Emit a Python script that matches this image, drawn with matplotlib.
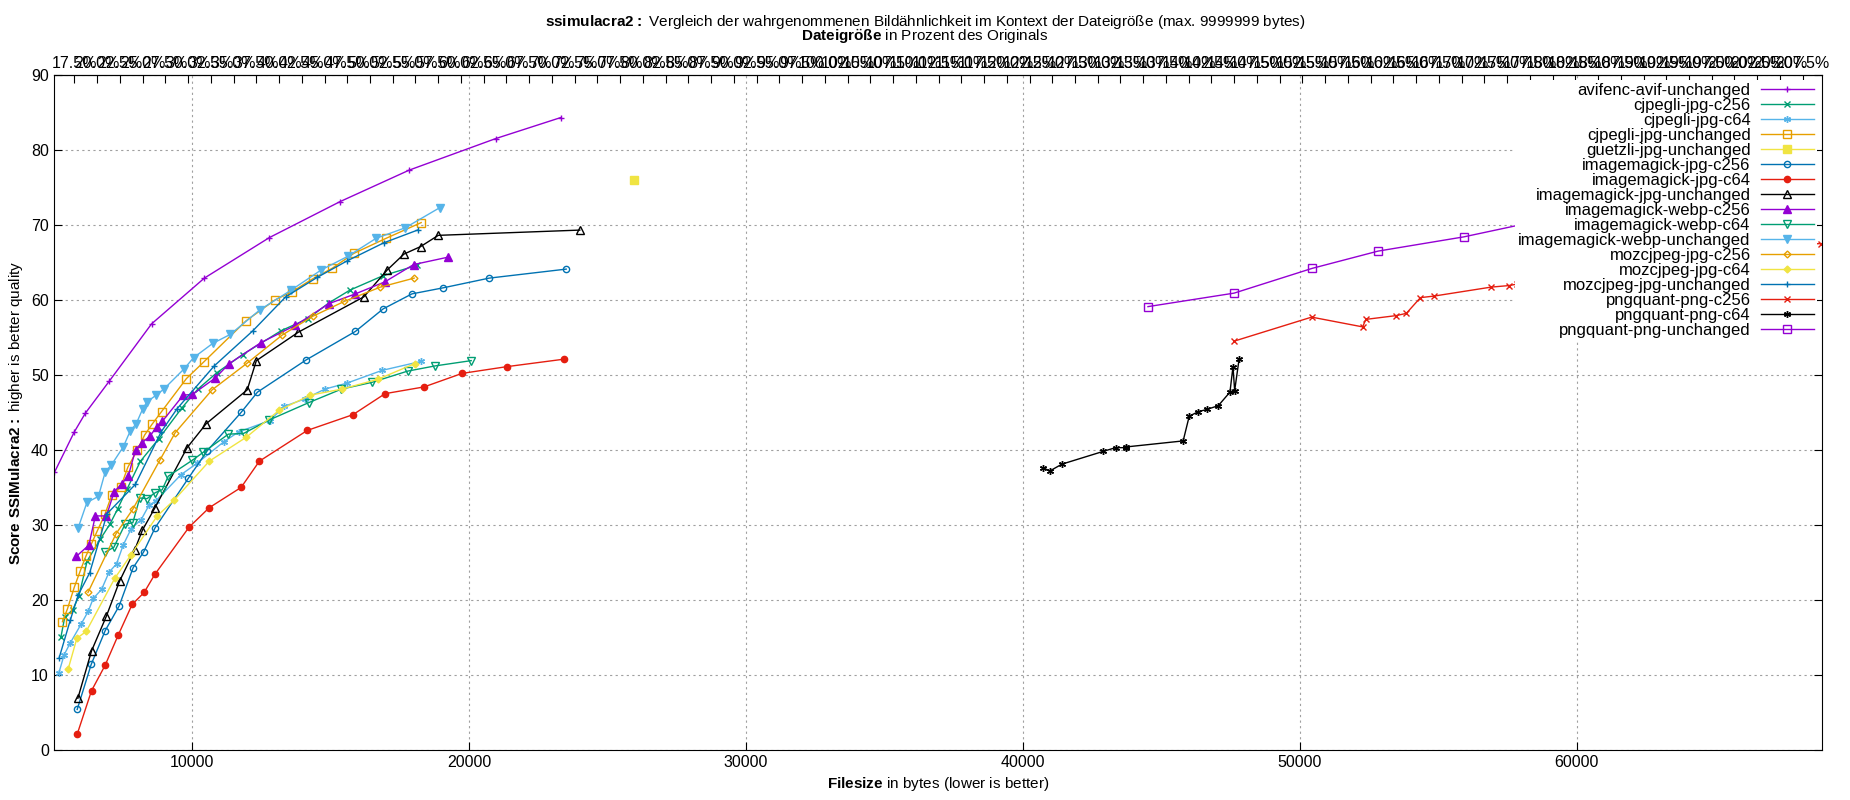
import numpy as np
import matplotlib
matplotlib.use("Agg")
import matplotlib.pyplot as plt

plt.rcParams['font.family'] = ['Liberation Sans', 'DejaVu Sans']
plt.rcParams['mathtext.fontset'] = 'custom'
plt.rcParams['mathtext.bf'] = 'Liberation Sans:bold'
plt.rcParams['mathtext.rm'] = 'Liberation Sans'

ORIG_SIZE = 32850  # bytes of the original, for the top percent axis

# --- data: (filesize bytes, score) per series ---
avif_x = [5028, 5746, 6146, 7016, 8536, 10442, 12790, 15345, 17844, 20965, 23313]
avif_y = [37.0, 42.4, 44.9, 49.2, 56.8, 62.9, 68.3, 73.1, 77.3, 81.5, 84.3]

cjpegli_c256_x = [5260, 5400, 5690, 5910, 6210, 6685, 7030, 7307, 7652, 8135, 8800, 9630, 10207, 10898, 11820, 13220, 14190, 14940, 15700, 16880, 18120]
cjpegli_c256_y = [15.0, 17.7, 18.7, 20.5, 25.2, 28.1, 30.1, 32.1, 34.8, 38.5, 41.5, 45.6, 48.1, 50.3, 52.7, 55.9, 57.5, 59.6, 61.3, 63.2, 64.6]

cjpegli_c64_x = [5190, 5380, 5590, 5995, 6250, 6430, 6730, 7000, 7270, 7510, 7800, 8160, 8440, 8690, 9600, 10170, 11150, 11680, 12800, 13330, 14070, 14790, 15590, 16860, 18270]
cjpegli_c64_y = [10.3, 12.7, 14.2, 16.8, 18.5, 20.2, 21.4, 23.7, 24.8, 27.3, 29.5, 30.7, 32.6, 33.2, 36.7, 38.2, 41.1, 42.4, 43.9, 45.8, 46.8, 48.1, 48.9, 50.6, 51.8]

cjpegli_unch_x = [5318, 5498, 5746, 5953, 6160, 6354, 6575, 6851, 7100, 7417, 7680, 8025, 8288, 8550, 8895, 9793, 10414, 11947, 12997, 13619, 14351, 15055, 15842, 17002, 18273]
cjpegli_unch_y = [17.1, 18.8, 21.7, 23.8, 25.8, 27.4, 29.2, 31.4, 34.0, 35.0, 37.7, 40.0, 42.0, 43.4, 45.1, 49.5, 51.7, 57.2, 60.0, 61.1, 62.8, 64.2, 66.2, 68.2, 70.3]

guetzli_x = [25960]
guetzli_y = [76.0]

im_jpg_c256_x = [5850, 6355, 6860, 7365, 7870, 8250, 8660, 9860, 10550, 11770, 12360, 14120, 15900, 16900, 17940, 19060, 20730, 23510]
im_jpg_c256_y = [5.4, 11.4, 15.9, 19.2, 24.3, 26.4, 29.6, 36.2, 39.9, 45.0, 47.7, 52.0, 55.8, 58.8, 60.8, 61.6, 62.9, 64.1]

im_jpg_c64_x = [5850, 6367, 6860, 7330, 7835, 8268, 8653, 9890, 10620, 11770, 12430, 14160, 15810, 16970, 18380, 19750, 21370, 23440]
im_jpg_c64_y = [2.1, 7.9, 11.3, 15.3, 19.4, 21.0, 23.4, 29.7, 32.3, 35.0, 38.5, 42.6, 44.7, 47.5, 48.4, 50.2, 51.1, 52.1]

im_jpg_unch_x = [5875, 6367, 6900, 7380, 7930, 8205, 8660, 9820, 10510, 11990, 12320, 13840, 16200, 17050, 17650, 18250, 18890, 24000]
im_jpg_unch_y = [6.9, 13.2, 17.8, 22.5, 26.7, 29.3, 32.3, 40.3, 43.5, 48.0, 51.9, 55.7, 60.4, 64.0, 66.1, 67.1, 68.6, 69.3]

im_webp_c256_x = [5815, 6271, 6506, 6907, 7183, 7459, 7694, 7956, 8177, 8495, 8716, 8923, 9682, 10014, 10842, 11340, 12486, 13729, 14944, 15897, 16961, 17996, 19253]
im_webp_c256_y = [25.8, 27.3, 31.2, 31.2, 34.4, 35.5, 36.5, 40.0, 40.9, 41.9, 43.1, 43.8, 47.3, 47.4, 49.6, 51.5, 54.3, 56.6, 59.5, 60.8, 62.4, 64.7, 65.7]

im_webp_c64_x = [6870, 7170, 7580, 7860, 8110, 8370, 8670, 8920, 9140, 10000, 10410, 11310, 11860, 12790, 14210, 15390, 16490, 17780, 18780, 20080]
im_webp_c64_y = [26.4, 27.0, 30.1, 30.3, 33.6, 33.5, 34.3, 34.7, 36.5, 38.6, 39.7, 42.1, 42.2, 44.0, 46.3, 48.1, 49.0, 50.5, 51.2, 51.9]

im_webp_unch_x = [5885, 6202, 6617, 6865, 7086, 7514, 7763, 7984, 8219, 8371, 8702, 8978, 9710, 10055, 10746, 11381, 12458, 13577, 14668, 15621, 16643, 17692, 18949]
im_webp_unch_y = [29.6, 33.0, 33.8, 37.1, 38.0, 40.4, 42.5, 43.5, 45.5, 46.4, 47.3, 48.1, 50.8, 52.3, 54.2, 55.4, 58.7, 61.3, 64.0, 65.8, 68.2, 69.6, 72.3]

moz_c256_x = [6240, 7250, 7860, 8830, 9390, 10720, 12000, 13250, 14350, 15500, 16800, 18020]
moz_c256_y = [21.0, 28.8, 32.1, 38.6, 42.3, 48.0, 51.6, 55.3, 57.8, 59.8, 61.7, 62.9]

moz_c64_x = [5525, 5840, 6175, 7210, 7790, 8740, 9350, 10620, 11960, 13150, 14270, 15400, 16700, 18040]
moz_c64_y = [10.8, 14.9, 15.8, 22.9, 26.0, 31.2, 33.3, 38.5, 41.7, 45.3, 47.3, 48.1, 49.4, 51.5]

moz_unch_x = [5200, 5600, 5890, 6300, 6930, 7950, 8880, 9460, 10800, 12200, 13380, 14520, 15600, 16920, 18140]
moz_unch_y = [12.3, 17.3, 20.7, 23.6, 31.5, 35.4, 42.4, 45.5, 51.2, 55.9, 60.4, 63.0, 65.2, 67.6, 69.3]

pq_c256_x = [47632, 50430, 52270, 52390, 53480, 53850, 54360, 54840, 56910, 57540, 57850, 58810, 60900, 62210, 64500, 65440, 67000, 68830]
pq_c256_y = [54.5, 57.7, 56.4, 57.4, 57.9, 58.2, 60.3, 60.5, 61.7, 61.9, 62.1, 62.7, 63.2, 64.0, 66.8, 67.0, 67.3, 67.5]

pq_c64_x = [40744, 40980, 41410, 42900, 43350, 43720, 43740, 45790, 46010, 46340, 46650, 47060, 47480, 47590, 47650, 47810]
pq_c64_y = [37.6, 37.2, 38.1, 39.8, 40.3, 40.3, 40.4, 41.2, 44.5, 45.1, 45.4, 45.9, 47.7, 51.1, 47.9, 52.1]

pq_unch_x = [44520, 47632, 50450, 52830, 55930, 60625]
pq_unch_y = [59.1, 60.9, 64.2, 66.5, 68.4, 72.1]

PURPLE, GREEN, LBLUE, ORANGE = '#9400d3', '#009e73', '#56b4e9', '#e69f00'
YELLOW, BLUE, RED, BLACK = '#f0e442', '#0072b2', '#e51e10', '#000000'

series = [
    ("avifenc-avif-unchanged", avif_x, avif_y, PURPLE, '+', 'full'),
    ("cjpegli-jpg-c256", cjpegli_c256_x, cjpegli_c256_y, GREEN, 'x', 'full'),
    ("cjpegli-jpg-c64", cjpegli_c64_x, cjpegli_c64_y, LBLUE, (6, 2, 0), 'full'),
    ("cjpegli-jpg-unchanged", cjpegli_unch_x, cjpegli_unch_y, ORANGE, 's', 'none'),
    ("guetzli-jpg-unchanged", guetzli_x, guetzli_y, YELLOW, 's', 'full'),
    ("imagemagick-jpg-c256", im_jpg_c256_x, im_jpg_c256_y, BLUE, 'o', 'none'),
    ("imagemagick-jpg-c64", im_jpg_c64_x, im_jpg_c64_y, RED, 'o', 'full'),
    ("imagemagick-jpg-unchanged", im_jpg_unch_x, im_jpg_unch_y, BLACK, '^', 'none'),
    ("imagemagick-webp-c256", im_webp_c256_x, im_webp_c256_y, PURPLE, '^', 'full'),
    ("imagemagick-webp-c64", im_webp_c64_x, im_webp_c64_y, GREEN, 'v', 'none'),
    ("imagemagick-webp-unchanged", im_webp_unch_x, im_webp_unch_y, LBLUE, 'v', 'full'),
    ("mozcjpeg-jpg-c256", moz_c256_x, moz_c256_y, ORANGE, 'D', 'none'),
    ("mozcjpeg-jpg-c64", moz_c64_x, moz_c64_y, YELLOW, 'D', 'full'),
    ("mozcjpeg-jpg-unchanged", moz_unch_x, moz_unch_y, BLUE, '+', 'full'),
    ("pngquant-png-c256", pq_c256_x, pq_c256_y, RED, 'x', 'full'),
    ("pngquant-png-c64", pq_c64_x, pq_c64_y, BLACK, (6, 2, 0), 'full'),
    ("pngquant-png-unchanged", pq_unch_x, pq_unch_y, PURPLE, 's', 'none'),
]

fig = plt.figure(figsize=(18.5, 8), dpi=100)
ax = fig.add_axes([0.029, 0.0625, 0.956, 0.844])

for name, xs, ys, col, mk, fill in series:
    size = 5.5 if mk in ('s', '^', 'v') else 5
    if mk == 'o':
        size = 4.5
    if mk == 'D':
        size = 3.5
    ax.plot(xs, ys, color=col, lw=1, marker=mk, ms=size, fillstyle=fill,
            markerfacecolor=(col if fill == 'full' else 'none'), markeredgecolor=col,
            markeredgewidth=1, label=name)

ax.set_xlim(5000, 68870)
ax.set_ylim(0, 90)
ax.set_xticks([10000, 20000, 30000, 40000, 50000, 60000])
ax.set_yticks(range(0, 91, 10))
ax.grid(True, color='#a0a0a0', linestyle=(0, (2, 3)), lw=0.8)
ax.tick_params(direction='in', labelsize=11.5, right=True, length=6)
ax.minorticks_off()

sec = ax.secondary_xaxis('top', functions=(lambda b: b / ORIG_SIZE * 100, lambda p: p * ORIG_SIZE / 100))
pticks = np.arange(17.5, 210.01, 2.5)
sec.set_xticks(pticks)
sec.set_xticklabels(["%.1f%%" % p for p in pticks])
sec.tick_params(direction='in', labelsize=11.5, length=6, pad=3)

fig.text(0.5, 0.954, r"$\bf{Dateigr\"o\ss e}$ in Prozent des Originals", ha='center', va='center', fontsize=11)
ax.set_xlabel(r"$\bf{Filesize}$ in bytes (lower is better)", fontsize=11, labelpad=4)
ax.set_ylabel(r"$\bf{Score\ SSIMulacra2{:}}$ higher is better quality", fontsize=11, labelpad=4)
fig.text(0.5, 0.973, r"$\bf{ssimulacra2{:}}$ Vergleich der wahrgenommenen Bildähnlichkeit im Kontext der Dateigröße (max. 9999999 bytes)",
         ha='center', va='center', fontsize=11)

leg = ax.legend(loc='upper right', markerfirst=False, frameon=True, fontsize=12,
                handlelength=3.2, labelspacing=0.0, borderaxespad=0.3, handletextpad=0.6,
                borderpad=0.2)
leg.get_frame().set_facecolor('white')
leg.get_frame().set_edgecolor('none')
leg.get_frame().set_alpha(1)
for t in leg.get_texts():
    t.set_ha('right')
leg._legend_box.align = 'right'

fig.savefig("out.png", dpi=100)
